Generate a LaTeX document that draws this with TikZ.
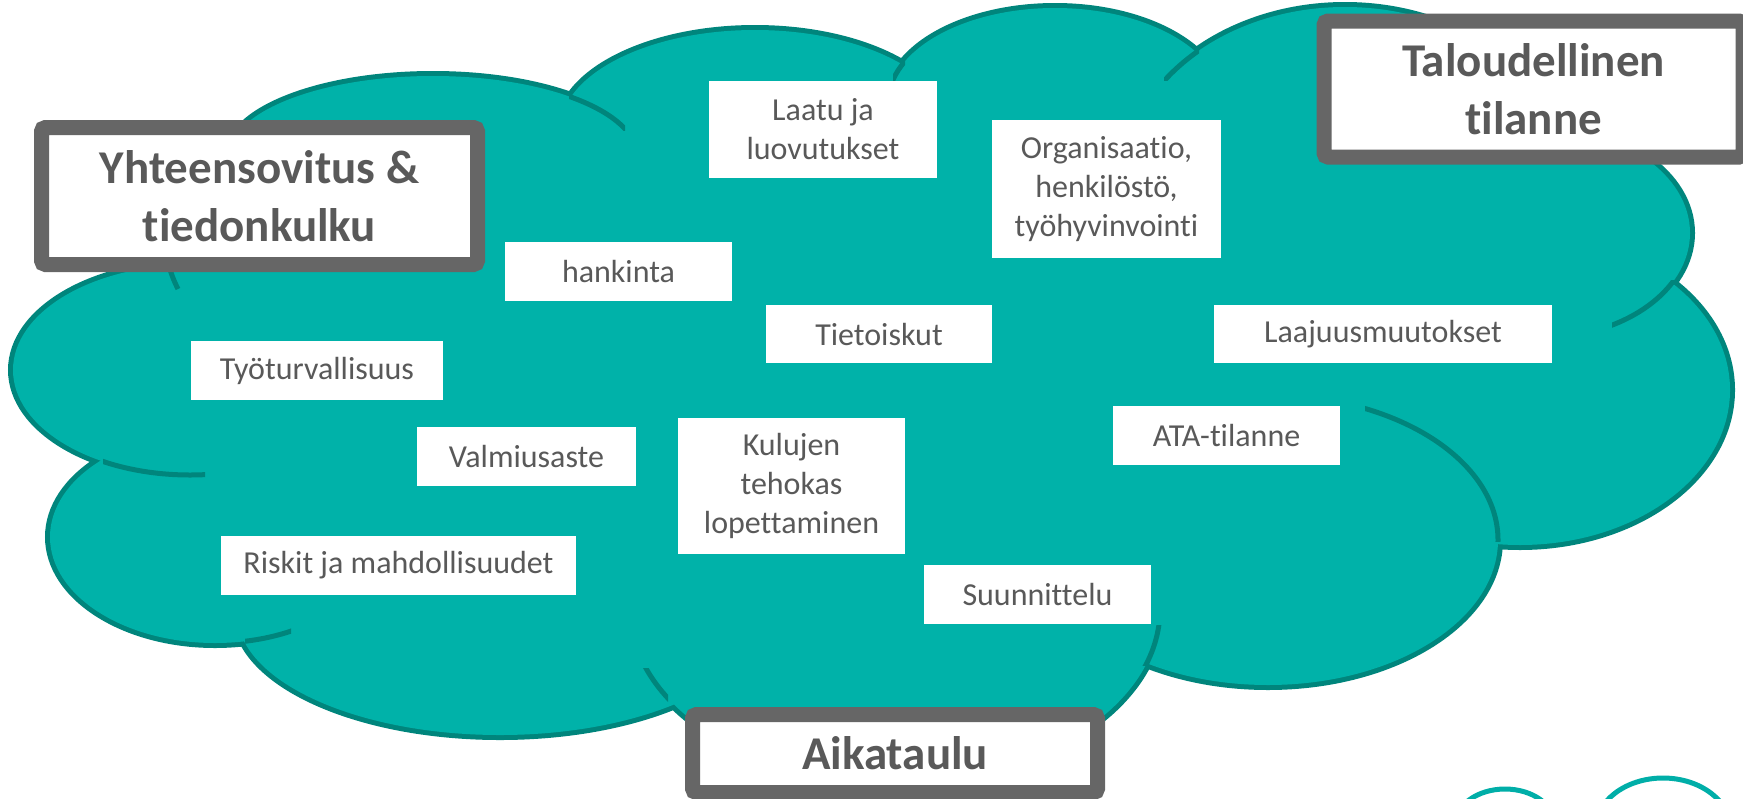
\documentclass[tikz,border=0pt]{standalone}
\usepackage{fontspec}
\setmainfont{Carlito}[Ligatures=NoCommon]
\definecolor{cloudteal}{HTML}{00B2A9}
\definecolor{cloudedge}{HTML}{00857C}
\definecolor{logoteal}{HTML}{00AEA8}
\definecolor{boxgray}{HTML}{666666}
\definecolor{textgray}{HTML}{595959}
\tikzset{
  topic/.style={fill=white, text=textgray, inner sep=0pt, align=center,
    font=\fontsize{16}{19.5}\selectfont},
  theme/.style={fill=white, draw=boxgray, line width=7.5pt, rounded corners=2pt,
    text=textgray, inner sep=0pt, align=center,
    font=\fontsize{23.5}{29}\selectfont\bfseries},
  lobe/.style={draw=cloudedge, line width=5pt},
  seam/.style={draw=cloudedge, line width=2.5pt},
}
\begin{document}
\begin{tikzpicture}[x = 0.5pt, y = -0.5pt]
  \useasboundingbox (0,0) rectangle (1743,798);
  \clip (0,0) rectangle (1743,798);
  % cloud: stroke every lobe, then fill over the inner half
  \foreach \cx/\cy/\rx/\ry in {190/370/177/105, 215/537/165/106, 500/613/263/122,
      895/609/265/173, 1268/540/230/145, 1520/390/210/155, 1540/233/150/105,
      1345/185/223/178, 1055/103/167/95, 755/130/195/100, 433/156/204/80}
    \draw[lobe] (\cx,\cy) ellipse [x radius=\rx, y radius=\ry];
  \foreach \cx/\cy/\rx/\ry in {190/370/177/105, 215/537/165/106, 500/613/263/122,
      895/609/265/173, 1268/540/230/145, 1520/390/210/155, 1540/233/150/105,
      1345/185/223/178, 1055/103/167/95, 755/130/195/100, 433/156/204/80}
    \fill[cloudteal] (\cx,\cy) ellipse [x radius=\rx, y radius=\ry];
  \fill[cloudteal] (140,300) -- (250,160) -- (450,140) -- (620,130) -- (760,110)
    -- (900,90) -- (1060,80) -- (1200,90) -- (1400,150) -- (1560,250) -- (1650,330)
    -- (1600,450) -- (1450,500) -- (1300,560) -- (1120,600) -- (900,650) -- (650,650)
    -- (450,640) -- (250,600) -- (100,520) -- (130,460) -- (60,400) -- (60,330) -- cycle;
  % seams inside the cloud
  \begin{scope}
    \clip (103,430) rectangle (205,485);
    \draw[seam] (190,370) ellipse [x radius=177, y radius=105];
  \end{scope}
  \begin{scope}
    \clip (245,600) rectangle (291,660);
    \draw[seam] (215,537) ellipse [x radius=165, y radius=106];
  \end{scope}
  \begin{scope}
    \clip (636,668) rectangle (668,710);
    \draw[seam] (895,609) ellipse [x radius=265, y radius=173];
  \end{scope}
  \begin{scope}
    \clip (1140,625) rectangle (1170,665);
    \draw[seam] (895,609) ellipse [x radius=265, y radius=173];
  \end{scope}
  \begin{scope}
    \clip (1365,400) rectangle (1505,541);
    \draw[seam] (1268,540) ellipse [x radius=230, y radius=145];
  \end{scope}
  \begin{scope}
    \clip (1612,280) rectangle (1675,335);
    \draw[seam] (1540,233) ellipse [x radius=150, y radius=105];
  \end{scope}
  \begin{scope}
    \clip (1164,40) rectangle (1199,80);
    \draw[seam] (1345,185) ellipse [x radius=223, y radius=178];
  \end{scope}
  \begin{scope}
    \clip (893,60) rectangle (905,85);
    \draw[seam] (1055,103) ellipse [x radius=167, y radius=95];
  \end{scope}
  \begin{scope}
    \clip (569,90) rectangle (625,130);
    \draw[seam] (433,156) ellipse [x radius=204, y radius=80];
  \end{scope}
  \draw[seam] (169,266) to[bend right=5] (178,289);
  % logo edge, bottom right
  \draw[logoteal, line width=2.5pt] (1505,825) ellipse [x radius=50, y radius=36];
  \draw[logoteal, line width=2.5pt] (1663,830) ellipse [x radius=68, y radius=52];
  % topics
  \node[topic, minimum width=114pt, minimum height=48.5pt] (laatu) at (823,129.5) {Laatu ja\\luovutukset};
  \node[topic, minimum width=114.5pt, minimum height=69pt] (org) at (1106.5,189) {Organisaatio,\\henkilöstö,\\työhyvinvointi};
  \node[topic, minimum width=113.5pt, minimum height=29.5pt] (hankinta) at (618.5,271.5) {hankinta};
  \node[topic, minimum width=113pt, minimum height=29pt] (tieto) at (879,334) {Tietoiskut};
  \node[topic, minimum width=169pt, minimum height=29pt] (laajuus) at (1383,334) {Laajuusmuutokset};
  \node[topic, minimum width=126pt, minimum height=29.5pt] (tyo) at (317,370.5) {Työturvallisuus};
  \node[topic, minimum width=109.5pt, minimum height=29.5pt] (valmius) at (526.5,456.5) {Valmiusaste};
  \node[topic, minimum width=113.5pt, minimum height=68pt] (kulut) at (791.5,486) {Kulujen\\tehokas\\lopettaminen};
  \node[topic, minimum width=177.5pt, minimum height=29.5pt] (riskit) at (398.5,565.5) {Riskit ja mahdollisuudet};
  \node[topic, minimum width=113.5pt, minimum height=29.5pt] (suunn) at (1037.5,594.5) {Suunnittelu};
  \node[topic, minimum width=113.5pt, minimum height=29.5pt] (ata) at (1226.5,435.5) {ATA-tilanne};
  % themes
  \node[theme, minimum width=218pt, minimum height=68.5pt] (yht) at (259.5,196) {Yhteensovitus \&\\tiedonkulku};
  \node[theme, minimum width=209.5pt, minimum height=68pt] (talous) at (1533.5,89) {Taloudellinen\\tilanne};
  \node[theme, minimum width=202.5pt, minimum height=39pt] (aika) at (895,753.5) {Aikataulu};
\end{tikzpicture}
\end{document}
